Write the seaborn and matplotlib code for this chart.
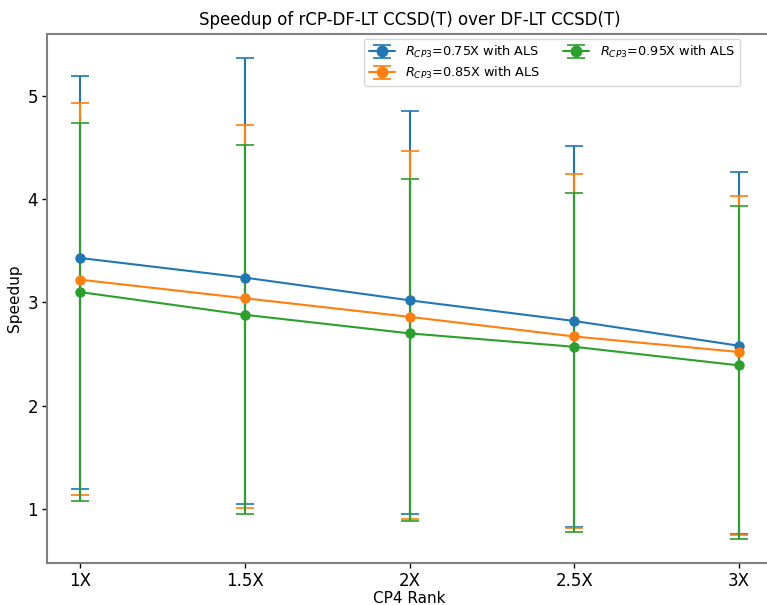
import numpy as np
import pandas as pd
import matplotlib
matplotlib.use("Agg")
import matplotlib.pyplot as plt
from matplotlib.lines import Line2D
from matplotlib.legend_handler import HandlerTuple
import seaborn as sns

ranks = ["1X", "1.5X", "2X", "2.5X", "3X"]
labels = [r"$R_{CP3}$=0.75X with ALS", r"$R_{CP3}$=0.85X with ALS", r"$R_{CP3}$=0.95X with ALS"]

mean_075 = [3.43, 3.24, 3.02, 2.82, 2.58]
mean_085 = [3.22, 3.04, 2.86, 2.67, 2.52]
mean_095 = [3.10, 2.88, 2.70, 2.57, 2.39]

upper_075 = [5.19, 5.37, 4.85, 4.51, 4.26]
upper_085 = [4.93, 4.72, 4.465, 4.24, 4.03]
upper_095 = [4.74, 4.52, 4.19, 4.06, 3.93]

lower_075 = [1.19, 1.045, 0.95, 0.83, 0.76]
lower_085 = [1.135, 1.005, 0.90, 0.82, 0.745]
lower_095 = [1.08, 0.955, 0.88, 0.78, 0.71]

means = [mean_075, mean_085, mean_095]
uppers = [upper_075, upper_085, upper_095]
lowers = [lower_075, lower_085, lower_095]

sns.set_theme(style="ticks")
plt.rcParams["font.family"] = ["DejaVu Sans"]
plt.rcParams["axes.edgecolor"] = "#808080"
plt.rcParams["axes.linewidth"] = 1.5
plt.rcParams["text.color"] = "black"
plt.rcParams["axes.labelcolor"] = "black"
plt.rcParams["xtick.color"] = "black"
plt.rcParams["ytick.color"] = "black"

colors = sns.color_palette("tab10", 3)

rows = []
for lab, m in zip(labels, means):
    for i, r in enumerate(ranks):
        rows.append({"pos": i, "rank": r, "speedup": m[i], "series": lab})
df = pd.DataFrame(rows)

fig = plt.figure(figsize=(7.67, 6.05), dpi=100)
ax = fig.add_axes([47 / 767, 42 / 605, 725 / 767, 529.5 / 605])

pos = np.arange(len(ranks))
handles = []
for lab, m, up, lo, c in zip(labels, means, uppers, lowers, colors):
    m = np.array(m); up = np.array(up); lo = np.array(lo)
    eb = ax.errorbar(pos, m, yerr=[m - lo, up - m], fmt="none", ecolor=c,
                     elinewidth=1.5, capsize=6.5, capthick=1.2, zorder=2)
    proxy = Line2D([], [], color=c, marker="o", markersize=7.5, linewidth=1.5)
    handles.append((eb, proxy))

sns.lineplot(data=df, x="pos", y="speedup", hue="series", palette=colors,
             marker="o", markersize=7.5, markeredgewidth=0, linewidth=1.5,
             legend=False, ax=ax, zorder=3)

ax.set_xticks(pos)
ax.set_xticklabels(ranks)
ax.tick_params(axis="both", labelsize=12, length=3.5, width=1, pad=3)
ax.set_xlabel("CP4 Rank", fontsize=11, labelpad=1)
ax.set_ylabel("Speedup", fontsize=11, labelpad=4)
ax.set_title("Speedup of rCP-DF-LT CCSD(T) over DF-LT CCSD(T)", fontsize=12, pad=6)
ax.set_xlim(-0.2, 4.2)
ax.set_ylim(0.477, 5.603)

ax.legend(handles, labels, loc="upper left", bbox_to_anchor=(0.437, 0.990),
          borderaxespad=0, ncol=2, fontsize=9.3, labelspacing=0.35,
          columnspacing=1.8,
          handler_map={tuple: HandlerTuple(ndivide=1)}, frameon=True)

fig.savefig("out.png", dpi=100)
